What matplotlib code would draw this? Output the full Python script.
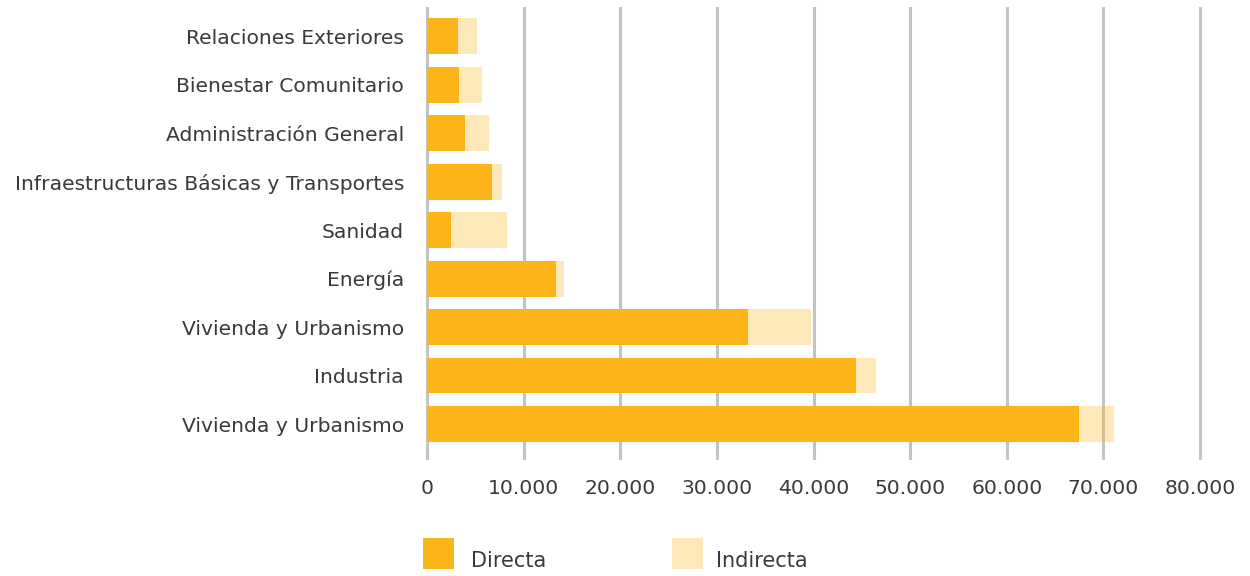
import matplotlib
matplotlib.use('Agg')
import matplotlib.pyplot as plt
from matplotlib.patches import Rectangle

plt.rcParams['font.family'] = ['DejaVu Sans']

# Data, listed top to bottom
categories = ['Relaciones Exteriores', 'Bienestar Comunitario', 'Administración General',
              'Infraestructuras Básicas y Transportes', 'Sanidad', 'Energía',
              'Vivienda y Urbanismo', 'Industria', 'Vivienda y Urbanismo']
directa = [3257, 3361, 3981, 6774, 2534, 13392, 33247, 44416, 67477]
indirecta = [1965, 2379, 2482, 1034, 5791, 827, 6515, 2068, 3619]
ticks = [0, 10000, 20000, 30000, 40000, 50000, 60000, 70000, 80000]
tick_labels = ['0', '10.000', '20.000', '30.000', '40.000', '50.000', '60.000', '70.000', '80.000']

orange = '#FCB519'
text_col = '#3a3a3a'

fig = plt.figure(figsize=(12.5, 5.76), dpi=100)
ax = fig.add_axes([0.3416, 0.2049, 0.6184, 0.7812])

ypos = list(range(len(categories)))
ax.barh(ypos, directa, height=0.74, color=orange, zorder=3)
ax.barh(ypos, indirecta, left=directa, height=0.74, color=orange, alpha=0.3,
        linewidth=0, zorder=3)

ax.set_xlim(0, 80000)
ax.set_ylim(len(categories) - 1 + 0.70, -0.58)
ax.set_yticks(ypos)
ax.set_yticklabels(categories, fontsize=14.6, color=text_col)
ax.set_xticks(ticks)
ax.set_xticklabels(tick_labels, fontsize=14.6, color=text_col)
ax.tick_params(axis='both', length=0)
ax.tick_params(axis='y', pad=16.5)
ax.tick_params(axis='x', pad=15)

ax.grid(axis='x', color='#c4c4c6', linewidth=2.2, zorder=1)
ax.grid(axis='y', visible=False)
for line in ax.get_xgridlines():
    line.set_clip_on(False)
for s in ax.spines.values():
    s.set_visible(False)

# Legend
fig.patches.append(Rectangle((423 / 1250, 1 - 569 / 576), 31 / 1250, 31 / 576,
                             transform=fig.transFigure, color=orange, linewidth=0))
fig.patches.append(Rectangle((672 / 1250, 1 - 569 / 576), 31 / 1250, 31 / 576,
                             transform=fig.transFigure, color=orange, alpha=0.3, linewidth=0))
fig.text(471 / 1250, 1 - 561 / 576, 'Directa', fontsize=15, color=text_col, va='center')
fig.text(716 / 1250, 1 - 561 / 576, 'Indirecta', fontsize=15, color=text_col, va='center')

fig.savefig('out.png', dpi=100)
